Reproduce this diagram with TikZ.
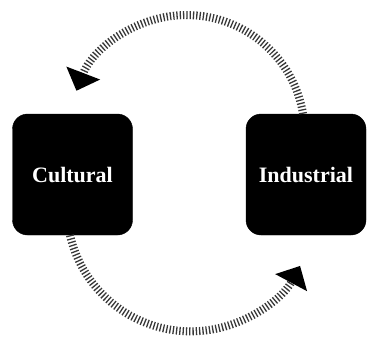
\documentclass[tikz,border=0pt]{standalone}
\usepackage{fontspec}
\setmainfont{Liberation Serif}
\usetikzlibrary{arrows.meta}
\begin{document}
\begin{tikzpicture}[x=1pt,y=-1pt,
  box/.style={fill=black, draw=black, rounded corners=15pt, minimum width=120pt, minimum height=121pt,
    inner sep=0pt, text=white, font=\fontsize{22}{24}\selectfont\bfseries},
  flow/.style={draw=black!78, line width=8pt, dash pattern=on 1.3pt off 2pt,
    -{Triangle[width=35pt,length=19pt,fill=black,color=black]}}
]
\useasboundingbox[fill=white] (0,0) rectangle (367,338);
\node[box] (cult) at (72.5,174.5) {Cultural};
\node[box] (ind) at (306,174.5) {Industrial};
\coordinate (topstart) at ([xshift=-3pt]ind.north);
\coordinate (botstart) at ([xshift=-2.5pt]cult.south);
\draw[flow] (topstart) arc[start angle=-9.4, end angle=-159, radius=118];
\draw[flow] (botstart) arc[start angle=167, end angle=28.2, radius=124];
\end{tikzpicture}
\end{document}
